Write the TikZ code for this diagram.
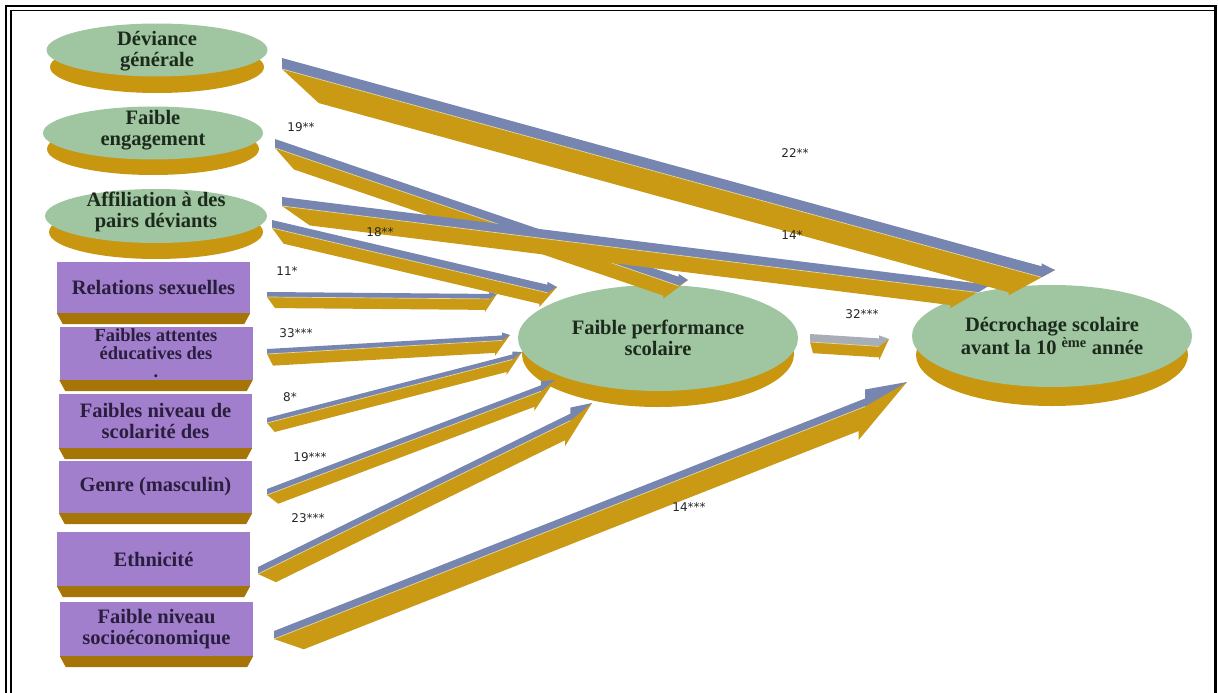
\documentclass[tikz,border=0pt]{standalone}
\usepackage{fontspec}
\setmainfont{Liberation Serif}
\newfontfamily\lblfont{DejaVu Sans}
\usetikzlibrary{shapes.geometric,calc,backgrounds}

\definecolor{ellgreen}{HTML}{9FC5A1}
\definecolor{boxpurple}{HTML}{A27FCC}
\definecolor{rimgold}{HTML}{C8960F}
\definecolor{bevgold}{HTML}{A57508}
\definecolor{arrgold}{HTML}{CA9A14}
\definecolor{arrblue}{HTML}{7686B0}
\definecolor{arrgrey}{HTML}{A8AEB8}
\definecolor{arrhl}{HTML}{E6D79A}
\definecolor{txtgreen}{HTML}{1C2A1C}
\definecolor{txtpurple}{HTML}{2A1E3E}

% 3D arrow: [#1 top colour] #2 start, #3 tip, #4 top thickness, #5 side thickness,
% #6 length of the pointed side, #7 length of the pointed top, #8 head widening, #9 bevel
\newcommand{\tdarrow}[9][arrblue]{%
  \coordinate (tdH) at ($(#3)!#6pt!(#2)$);
  \coordinate (tdB) at ($(#3)!#7pt!(#2)$);
  \fill[arrgold] ($(#2)+(0,#4)$) -- (#3) -- ($(tdH)+(0,#4+#5+#8)$)
     -- ($(tdH)+(0,#4+#5)$) -- ($(#2)!#9pt!(#3)+(0,#4+#5)$) -- cycle;
  \fill[#1] (#2) -- (tdB) -- ($(tdB)+(0,-#8)$) -- (#3) -- ($(tdB)+(0,#4)$)
     -- ($(#2)+(0,#4)$) -- cycle;
  \draw[arrhl, line width=0.7pt] ($(#2)+(0,#4)$) -- ($(tdB)+(0,#4)$);
}
\newcommand{\boxbevel}[1]{%
  \fill[bevgold] (#1.south west) -- (#1.south east) -- ($(#1.south east)+(-6,11)$)
     -- ($(#1.south west)+(6,11)$) -- cycle;
}

\begin{document}
\begin{tikzpicture}[x=1pt,y=-1pt,
  greenell/.style={ellipse, fill=ellgreen, inner sep=0pt},
  elltext/.style={align=center, inner sep=0pt, text=txtgreen,
    font=\bfseries\fontsize{20.5}{21}\selectfont},
  purplebox/.style={rectangle, fill=boxpurple, minimum width=193pt, inner sep=0pt,
    align=center, text=txtpurple, font=\bfseries\fontsize{20.5}{21}\selectfont},
  lbl/.style={inner sep=0pt, text=black!85, font=\lblfont\fontsize{12}{13}\selectfont}]

\useasboundingbox (0,0) rectangle (1218,693);

% frame
\draw[line width=2.2pt] (6,693) -- (6,6) -- (1215.5,6) -- (1215.5,693);
\draw[line width=1.2pt] (11,693) -- (11,10.5) -- (1215.5,10.5);

% green ellipses
\node[greenell, minimum width=221pt, minimum height=53pt] (dev) at (157,50) {};
\node[elltext] (devt) at ([yshift=-1pt]dev.center) {Déviance\\générale};
\node[greenell, minimum width=220pt, minimum height=53pt] (eng) at (153,133) {};
\node[elltext] (engt) at ([yshift=3pt]eng.center) {Faible\\engagement};
\node[greenell, minimum width=222pt, minimum height=54pt] (aff) at (156,216) {};
\node[elltext] (afft) at ([yshift=4pt]aff.center) {Affiliation à des\\pairs déviants};
\node[greenell, minimum width=280pt, minimum height=106pt] (fps) at (658,338) {};
\node[elltext] (fpst) at (fps.center) {Faible performance\\scolaire};
\node[greenell, minimum width=280pt, minimum height=102pt] (dec) at (1052,336) {};
\node[elltext] (dect) at (dec.center) {Décrochage scolaire\\avant la 10 \textsuperscript{ème} année};

\begin{scope}[on background layer]
  \fill[rimgold] ($(dev.center)+(0,17)$) ellipse [x radius=107, y radius=26];
  \fill[rimgold] ($(eng.center)+(0,16)$) ellipse [x radius=106, y radius=26];
  \fill[rimgold] ($(aff.center)+(0,16)$) ellipse [x radius=107, y radius=27];
  \fill[rimgold] ($(fps.center)+(0,16)$) ellipse [x radius=136, y radius=53];
  \fill[rimgold] ($(dec.center)+(0,19)$) ellipse [x radius=136, y radius=51];
\end{scope}

% purple boxes
\node[purplebox, minimum height=51pt] (rel) at (153.5,287.5) {Relations sexuelles};
\node[purplebox, minimum height=53pt, font=\bfseries\fontsize{18.5}{18}\selectfont] (att) at (156,353.5) {Faibles attentes\\éducatives des\\.};
\node[purplebox, minimum height=54pt] (niv) at (155.5,421) {Faibles niveau de\\scolarité des};
\node[purplebox, minimum height=52pt] (gen) at (155.5,487) {Genre (masculin)};
\node[purplebox, minimum height=54pt] (eth) at (153.5,559) {Ethnicité};
\node[purplebox, minimum height=54pt] (soc) at (156.5,629) {Faible niveau\\socioéconomique};
\boxbevel{rel}\boxbevel{att}\boxbevel{niv}\boxbevel{gen}\boxbevel{eth}\boxbevel{soc}

% arrow end points
\coordinate (jS) at (274,631);  \coordinate (jT) at (907,382);
\coordinate (iS) at (258,567);  \coordinate (iT) at (592,403);
\coordinate (hS) at (267,489);  \coordinate (hT) at (555,380);
\coordinate (gS) at (267,418);  \coordinate (gT) at (522,352);
\coordinate (fS) at (267,349);  \coordinate (fT) at (510,335);
\coordinate (eS) at (267,292);  \coordinate (eT) at (497,294);
\coordinate (dS) at (272,220);  \coordinate (dT) at (557,287);
\coordinate (bS) at (275,139);  \coordinate (bT) at (688,280);
\coordinate (cS) at (282,197);  \coordinate (cT) at (990,285);
\coordinate (aS) at (282,58);   \coordinate (aT) at (1055,270);
\coordinate (kS) at (810,334);  \coordinate (kT) at (889,339);

\tdarrow{jS}{jT}{8}{22}{52}{45}{9}{32}
\tdarrow{iS}{iT}{7}{17}{30}{24}{6}{20}
\tdarrow{hS}{hT}{6}{13}{22}{15}{4}{12}
\tdarrow{gS}{gT}{5}{11}{16}{10}{3}{8}
\tdarrow{fS}{fT}{5}{12}{15}{8}{3}{6}
\tdarrow{eS}{eT}{5}{11}{12}{8}{2}{8}
\tdarrow{dS}{dT}{8}{13}{18}{10}{3}{12}
\tdarrow{bS}{bT}{9}{15}{26}{10}{3}{20}
\tdarrow{cS}{cT}{9}{16}{40}{12}{3}{28}
\tdarrow{aS}{aT}{11}{24}{48}{14}{3}{38}
\tdarrow[arrgrey]{kS}{kT}{8}{11}{10}{10}{3}{3}

% coefficients
\node[lbl] (l22) at (795,153) {22**};
\node[lbl] (l19a) at (301,127) {19**};
\node[lbl] (l18) at (380,232) {18**};
\node[lbl] (l14a) at (792,235) {14*};
\node[lbl] (l11) at (287,271) {11*};
\node[lbl] (l33) at (296,333) {33***};
\node[lbl] (l8) at (290,397) {8*};
\node[lbl] (l19b) at (310,457) {19***};
\node[lbl] (l23) at (308,518) {23***};
\node[lbl] (l14b) at (689,507) {14***};
\node[lbl] (l32) at (862,314) {32***};
\end{tikzpicture}
\end{document}
